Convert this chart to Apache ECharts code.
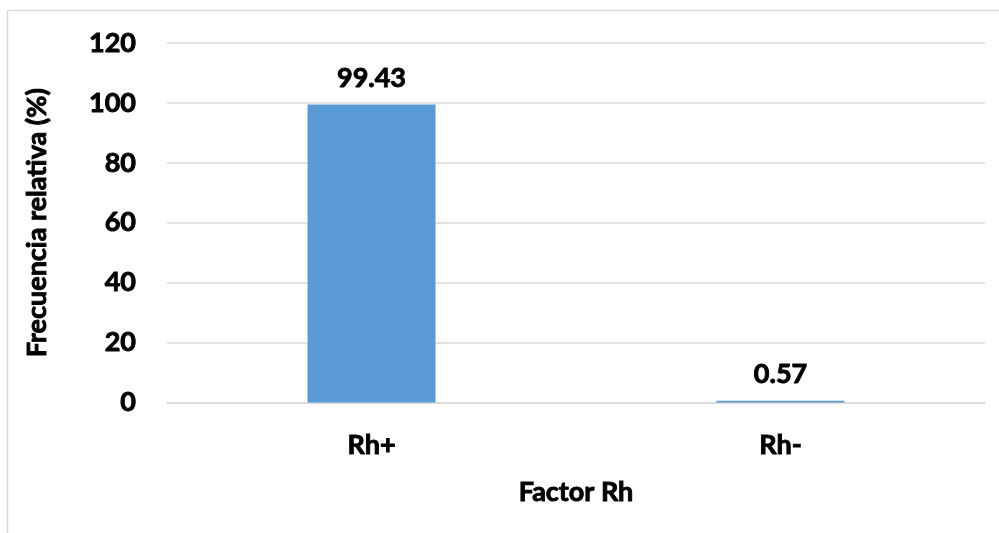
<!DOCTYPE html>
<html>
<head>
<meta charset="utf-8">
<script src="https://cdn.jsdelivr.net/npm/echarts@6/dist/echarts.min.js"></script>
<style>
  html, body { margin: 0; padding: 0; background: #fff; }
  #chart { width: 999px; height: 533px; }
</style>
</head>
<body>
<div id="chart"></div>
<script>
// Rh factor distribution (relative frequency, %)
const categories = ['Rh+', 'Rh-'];
const frequencies = [99.43, 0.57];
const yTicks = { min: 0, max: 120, interval: 20 };

const chart = echarts.init(document.getElementById('chart'), null, { renderer: 'canvas' });

// heavy bold text: Lato bold with a thin outline in the same colour
const text = {
  fontFamily: 'Lato', fontWeight: 'bold', fontSize: 27, color: '#000',
  textBorderColor: '#000', textBorderWidth: 0.9
};

chart.setOption({
  backgroundColor: '#ffffff',
  animation: false,
  graphic: [{
    type: 'rect',
    shape: { x: 7.5, y: 10.5, width: 1200, height: 800 },
    style: { fill: 'none', stroke: '#d9d9d9', lineWidth: 1.5 },
    silent: true,
    z: -1
  }],
  grid: { left: 167, right: 14, top: 43, bottom: 130.5 },
  xAxis: {
    type: 'category',
    data: categories,
    name: 'Factor Rh',
    nameLocation: 'middle',
    nameGap: 76,
    nameTextStyle: text,
    axisLine: { show: true, lineStyle: { color: '#d9d9d9', width: 1.5 } },
    axisTick: { show: false },
    axisLabel: Object.assign({ margin: 29 }, text)
  },
  yAxis: {
    type: 'value',
    min: yTicks.min,
    max: yTicks.max,
    interval: yTicks.interval,
    name: 'Frecuencia relativa (%)',
    nameLocation: 'middle',
    nameGap: 116,
    nameTextStyle: text,
    axisLine: { show: false },
    axisTick: { show: false },
    axisLabel: Object.assign({ margin: 31 }, text),
    splitLine: { lineStyle: { color: '#d9d9d9', width: 1.5 } }
  },
  series: [{
    type: 'bar',
    data: frequencies,
    barWidth: 128,
    itemStyle: { color: '#5b9bd5' },
    label: Object.assign({
      show: true,
      position: 'top',
      distance: 13,
      formatter: p => p.value.toFixed(2)
    }, text)
  }]
});
</script>
</body>
</html>
